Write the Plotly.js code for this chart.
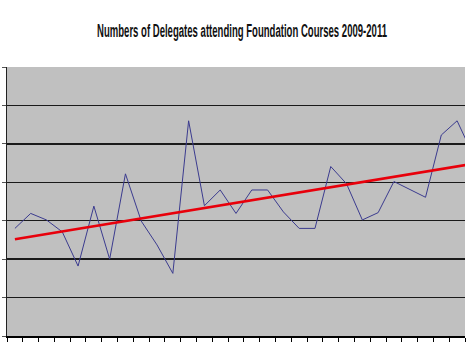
<!DOCTYPE html>
<html>
<head>
<meta charset="utf-8">
<script src="https://cdn.plot.ly/plotly-3.0.1.min.js"></script>
<style>html,body{margin:0;padding:0;background:#fff;}#chart{width:476px;height:353px;}</style>
</head>
<body>
<div id="chart"></div>
<script>
// Course number (category), in order; the last one is cut off by the right edge of the picture
var courses = [1,2,3,4,5,6,7,8,9,10,11,12,13,14,15,16,17,18,19,20,21,22,23,24,25,26,27,28,29,30];
// Delegates per course
var delegates = [28.0,31.9,30.2,27.1,18.2,33.8,20.0,42.2,29.9,23.7,16.3,56.0,33.9,38.0,31.9,38.0,38.0,32.3,28.0,28.0,44.1,39.6,30.2,32.1,40.2,38.1,36.1,52.3,56.0,47.2];
// Linear trend line end points
var trendCourses = [1, 30];
var trendValues = [25.2, 44.8];
var titleText = 'Numbers of Delegates attending Foundation Courses 2009-2011';

var traces = [
  {x: courses, y: delegates, type: 'scatter', mode: 'lines',
   line: {color: '#3b3b8f', width: 1}, hoverinfo: 'none'},
  {x: trendCourses, y: trendValues, type: 'scatter', mode: 'lines',
   line: {color: '#e8000b', width: 2.6}, hoverinfo: 'none'}
];
var layout = {
  width: 476, height: 353,
  margin: {l: 7, r: 11, t: 67, b: 17},
  paper_bgcolor: '#ffffff',
  plot_bgcolor: '#c0c0c0',
  showlegend: false,
  title: {text: titleText, x: 0.508, xanchor: 'center', xref: 'container',
          y: 1 - 26/353, yanchor: 'middle', yref: 'container',
          font: {family: 'Liberation Sans, Arial, sans-serif', size: 9.6, color: '#111', weight: 'bold'}},
  xaxis: {range: [0.5, 29.5], tick0: 0.5, dtick: 1, showgrid: false, zeroline: false,
          showticklabels: false, ticks: 'outside', ticklen: 4, tickcolor: '#000', tickwidth: 1,
          showline: true, linecolor: '#000', linewidth: 1.5},
  yaxis: {range: [0, 70], dtick: 10, showgrid: true, gridcolor: '#1a1a1a', gridwidth: 1.3,
          zeroline: false, showticklabels: false, ticks: 'outside', ticklen: 4, tickcolor: '#555',
          showline: true, linecolor: '#222', linewidth: 1}
};
Plotly.newPlot('chart', traces, layout, {staticPlot: true, displayModeBar: false}).then(function (gd) {
  // the reference title is set in a tall condensed face: stretch the real text vertically
  var t = gd.querySelector('.gtitle');
  if (t) {
    t.setAttribute('text-anchor', 'middle');
    t.setAttribute('x', '242');
    t.setAttribute('y', '30.7');
    var w = t.getComputedTextLength() || 290;
    var sx = 290 / w, sy = 17.5 / 9.6;
    t.setAttribute('transform', 'translate(242,30.7) scale(' + sx + ',' + sy + ') translate(-242,-30.7)');
  }
});
</script>
</body>
</html>
